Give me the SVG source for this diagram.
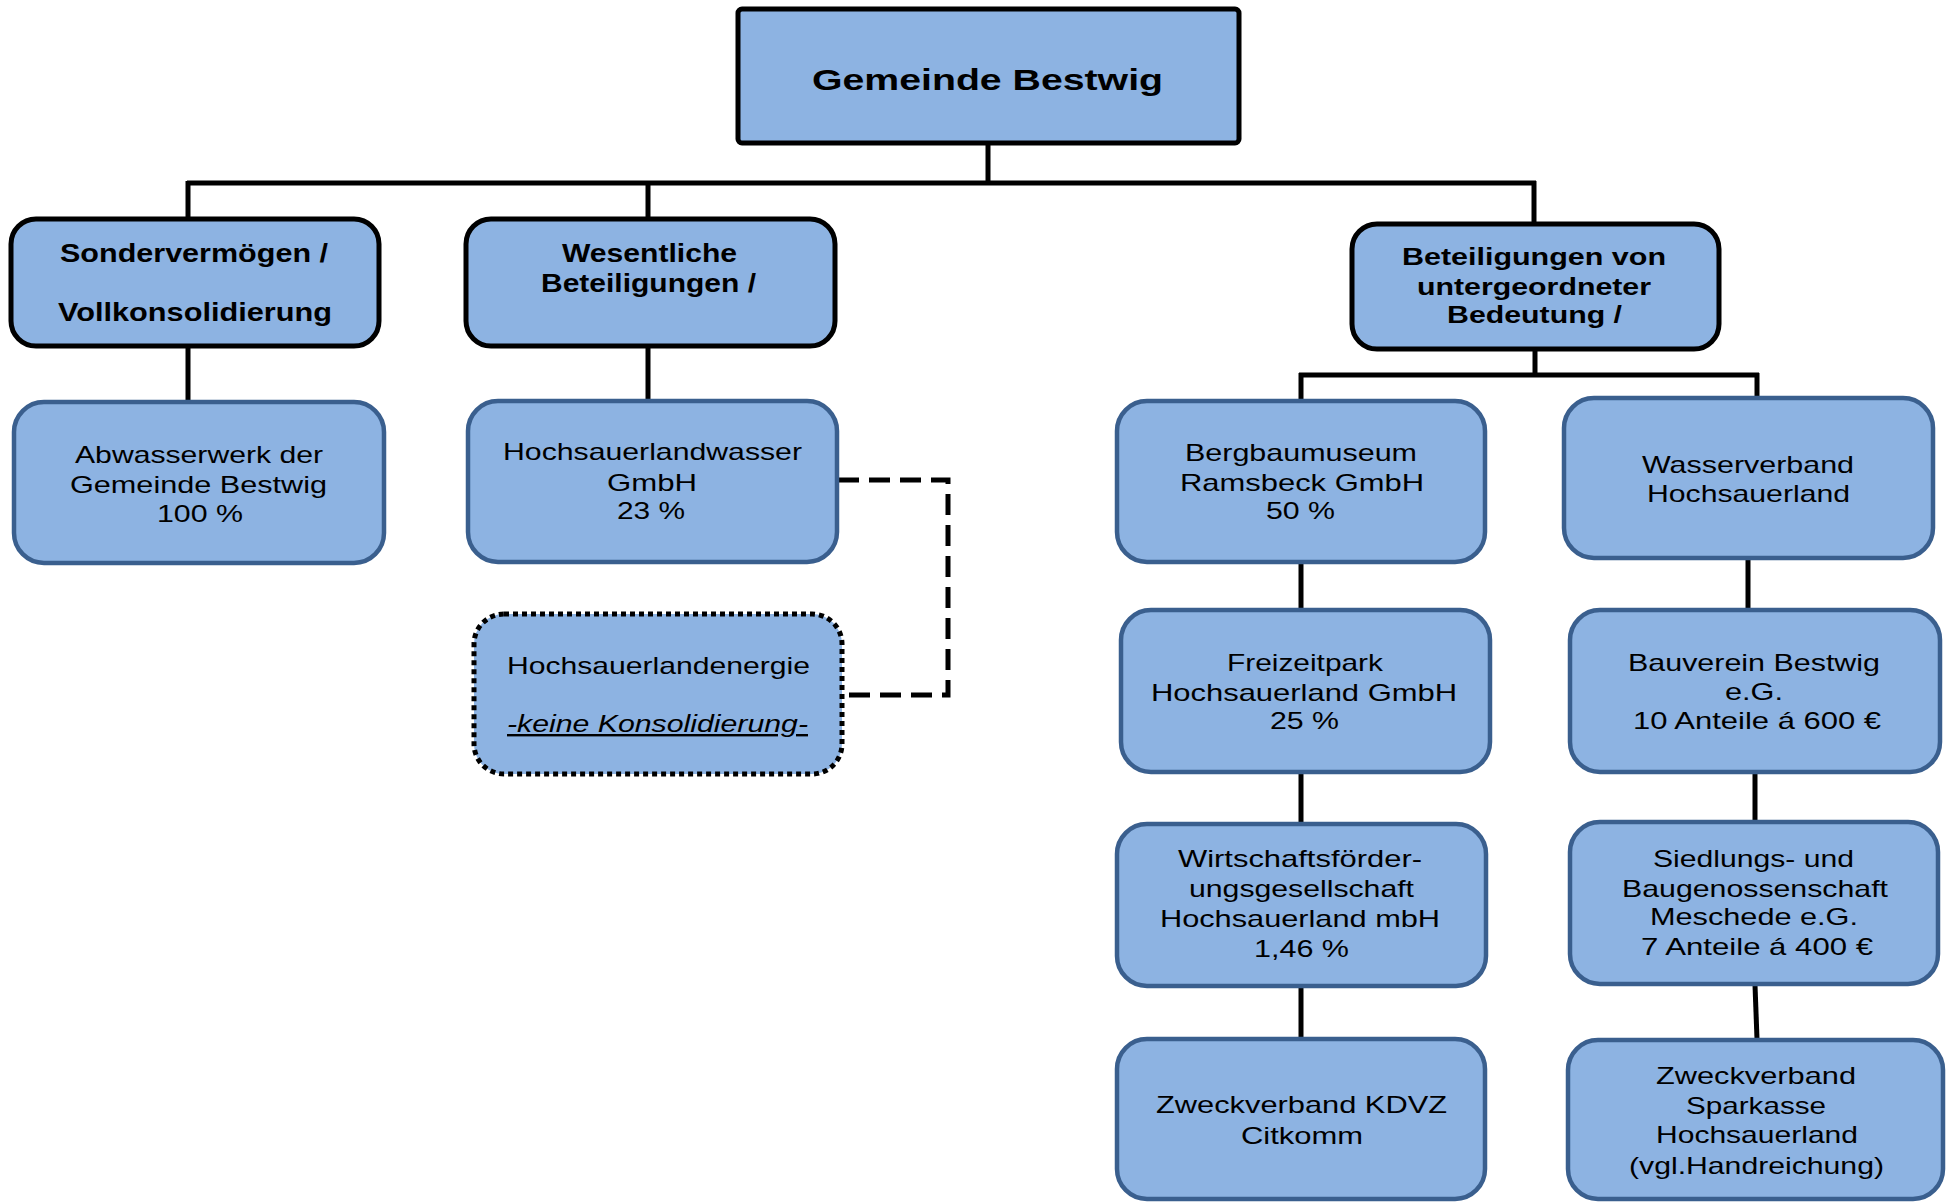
<svg xmlns="http://www.w3.org/2000/svg" width="1946" height="1203" viewBox="0 0 1946 1203">
<style>
.bg{fill:#ffffff}
.top{fill:#8DB3E2;stroke:#000;stroke-width:5}
.hdr{fill:#8DB3E2;stroke:#000;stroke-width:5}
.box{fill:#8DB3E2;stroke:#3A5F8E;stroke-width:4.5}
.dot{fill:#8DB3E2;stroke:#000;stroke-width:5;stroke-dasharray:5 4}
.ln{fill:none;stroke:#000;stroke-width:5}
.dash{fill:none;stroke:#000;stroke-width:5;stroke-dasharray:21 10}
text{font-family:"Liberation Sans",Arial,sans-serif;fill:#000}
.b{font-weight:bold;font-size:26px}
.bt{font-weight:bold;font-size:30px}
.br{font-weight:bold;font-size:24px}
.r{font-size:24px}
.it{font-style:italic;text-decoration:underline}
</style>
<rect class="bg" x="0" y="0" width="1946" height="1203"/>
<g id="connectors">
<path class="ln" d="M988,143 V183"/>
<path class="ln" d="M187,183 H1536"/>
<path class="ln" d="M188,181 V218"/>
<path class="ln" d="M648,181 V218"/>
<path class="ln" d="M1534,181 V223"/>
<path class="ln" d="M188,346 V402"/>
<path class="ln" d="M648,346 V400"/>
<path class="dash" d="M838,480 H948 V695 H843"/>
<path class="ln" d="M1535,349 V375"/>
<path class="ln" d="M1299,375 H1759"/>
<path class="ln" d="M1301,373 V400"/>
<path class="ln" d="M1757,373 V397"/>
<path class="ln" d="M1301,563 V609"/>
<path class="ln" d="M1748,559 V609"/>
<path class="ln" d="M1301,773 V823"/>
<path class="ln" d="M1755,773 V821"/>
<path class="ln" d="M1301,987 V1038"/>
<path class="ln" d="M1755,985 L1757,1039"/>
</g>
<g id="gemeinde">
<rect class="top" x="738" y="9" width="501" height="134" rx="4"/>
<text class="bt" x="812" y="90" textLength="351" lengthAdjust="spacingAndGlyphs">Gemeinde Bestwig</text>
</g>
<g id="sondervermoegen">
<rect class="hdr" x="11" y="219" width="368" height="127" rx="25"/>
<text class="b" x="60" y="262" textLength="268" lengthAdjust="spacingAndGlyphs">Sondervermögen /</text>
<text class="b" x="58" y="321" textLength="274" lengthAdjust="spacingAndGlyphs">Vollkonsolidierung</text>
</g>
<g id="wesentliche">
<rect class="hdr" x="466" y="219" width="369" height="127" rx="25"/>
<text class="b" x="562" y="262" textLength="175" lengthAdjust="spacingAndGlyphs">Wesentliche</text>
<text class="b" x="541" y="292" textLength="215" lengthAdjust="spacingAndGlyphs">Beteiligungen /</text>
</g>
<g id="untergeordnet">
<rect class="hdr" x="1352" y="224" width="367" height="125" rx="25"/>
<text class="br" x="1402" y="265" textLength="264" lengthAdjust="spacingAndGlyphs">Beteiligungen von</text>
<text class="br" x="1417" y="295" textLength="234" lengthAdjust="spacingAndGlyphs">untergeordneter</text>
<text class="br" x="1447" y="323" textLength="175" lengthAdjust="spacingAndGlyphs">Bedeutung /</text>
</g>
<g id="abwasserwerk">
<rect class="box" x="14" y="402" width="370" height="161" rx="30"/>
<text class="r" x="75" y="463" textLength="248" lengthAdjust="spacingAndGlyphs">Abwasserwerk der</text>
<text class="r" x="70" y="493" textLength="257" lengthAdjust="spacingAndGlyphs">Gemeinde Bestwig</text>
<text class="r" x="157" y="522" textLength="86" lengthAdjust="spacingAndGlyphs">100 %</text>
</g>
<g id="hochsauerlandwasser">
<rect class="box" x="468" y="401" width="369" height="161" rx="30"/>
<text class="r" x="503" y="460" textLength="299" lengthAdjust="spacingAndGlyphs">Hochsauerlandwasser</text>
<text class="r" x="607" y="491" textLength="90" lengthAdjust="spacingAndGlyphs">GmbH</text>
<text class="r" x="617" y="519" textLength="68" lengthAdjust="spacingAndGlyphs">23 %</text>
</g>
<g id="hochsauerlandenergie">
<rect class="dot" x="474" y="614" width="368" height="160" rx="30"/>
<text class="r" x="507" y="674" textLength="303" lengthAdjust="spacingAndGlyphs">Hochsauerlandenergie</text>
<text class="r it" x="507" y="732" textLength="301" lengthAdjust="spacingAndGlyphs">-keine Konsolidierung-</text>
</g>
<g id="bergbaumuseum">
<rect class="box" x="1117" y="401" width="368" height="161" rx="30"/>
<text class="r" x="1185" y="461" textLength="232" lengthAdjust="spacingAndGlyphs">Bergbaumuseum</text>
<text class="r" x="1180" y="491" textLength="244" lengthAdjust="spacingAndGlyphs">Ramsbeck GmbH</text>
<text class="r" x="1266" y="519" textLength="69" lengthAdjust="spacingAndGlyphs">50 %</text>
</g>
<g id="wasserverband">
<rect class="box" x="1564" y="398" width="369" height="160" rx="30"/>
<text class="r" x="1642" y="473" textLength="212" lengthAdjust="spacingAndGlyphs">Wasserverband</text>
<text class="r" x="1647" y="502" textLength="203" lengthAdjust="spacingAndGlyphs">Hochsauerland</text>
</g>
<g id="freizeitpark">
<rect class="box" x="1121" y="610" width="369" height="162" rx="30"/>
<text class="r" x="1227" y="671" textLength="156" lengthAdjust="spacingAndGlyphs">Freizeitpark</text>
<text class="r" x="1151" y="701" textLength="306" lengthAdjust="spacingAndGlyphs">Hochsauerland GmbH</text>
<text class="r" x="1270" y="729" textLength="69" lengthAdjust="spacingAndGlyphs">25 %</text>
</g>
<g id="bauverein">
<rect class="box" x="1570" y="610" width="370" height="162" rx="30"/>
<text class="r" x="1628" y="671" textLength="252" lengthAdjust="spacingAndGlyphs">Bauverein Bestwig</text>
<text class="r" x="1725" y="700" textLength="58" lengthAdjust="spacingAndGlyphs">e.G.</text>
<text class="r" x="1633" y="729" textLength="248" lengthAdjust="spacingAndGlyphs">10 Anteile á 600 €</text>
</g>
<g id="wirtschaftsfoerderung">
<rect class="box" x="1117" y="824" width="369" height="162" rx="30"/>
<text class="r" x="1178" y="867" textLength="244" lengthAdjust="spacingAndGlyphs">Wirtschaftsförder-</text>
<text class="r" x="1189" y="897" textLength="225" lengthAdjust="spacingAndGlyphs">ungsgesellschaft</text>
<text class="r" x="1160" y="927" textLength="280" lengthAdjust="spacingAndGlyphs">Hochsauerland mbH</text>
<text class="r" x="1254" y="957" textLength="95" lengthAdjust="spacingAndGlyphs">1,46 %</text>
</g>
<g id="siedlungs">
<rect class="box" x="1570" y="822" width="368" height="162" rx="30"/>
<text class="r" x="1653" y="867" textLength="201" lengthAdjust="spacingAndGlyphs">Siedlungs- und</text>
<text class="r" x="1622" y="897" textLength="266" lengthAdjust="spacingAndGlyphs">Baugenossenschaft</text>
<text class="r" x="1650" y="925" textLength="208" lengthAdjust="spacingAndGlyphs">Meschede e.G.</text>
<text class="r" x="1641" y="955" textLength="232" lengthAdjust="spacingAndGlyphs">7 Anteile á 400 €</text>
</g>
<g id="kdvz">
<rect class="box" x="1117" y="1039" width="368" height="160" rx="30"/>
<text class="r" x="1156" y="1113" textLength="291" lengthAdjust="spacingAndGlyphs">Zweckverband KDVZ</text>
<text class="r" x="1241" y="1144" textLength="122" lengthAdjust="spacingAndGlyphs">Citkomm</text>
</g>
<g id="sparkasse">
<rect class="box" x="1568" y="1040" width="375" height="159" rx="30"/>
<text class="r" x="1656" y="1084" textLength="200" lengthAdjust="spacingAndGlyphs">Zweckverband</text>
<text class="r" x="1686" y="1114" textLength="140" lengthAdjust="spacingAndGlyphs">Sparkasse</text>
<text class="r" x="1656" y="1143" textLength="202" lengthAdjust="spacingAndGlyphs">Hochsauerland</text>
<text class="r" x="1629" y="1174" textLength="255" lengthAdjust="spacingAndGlyphs">(vgl.Handreichung)</text>
</g>
</svg>
